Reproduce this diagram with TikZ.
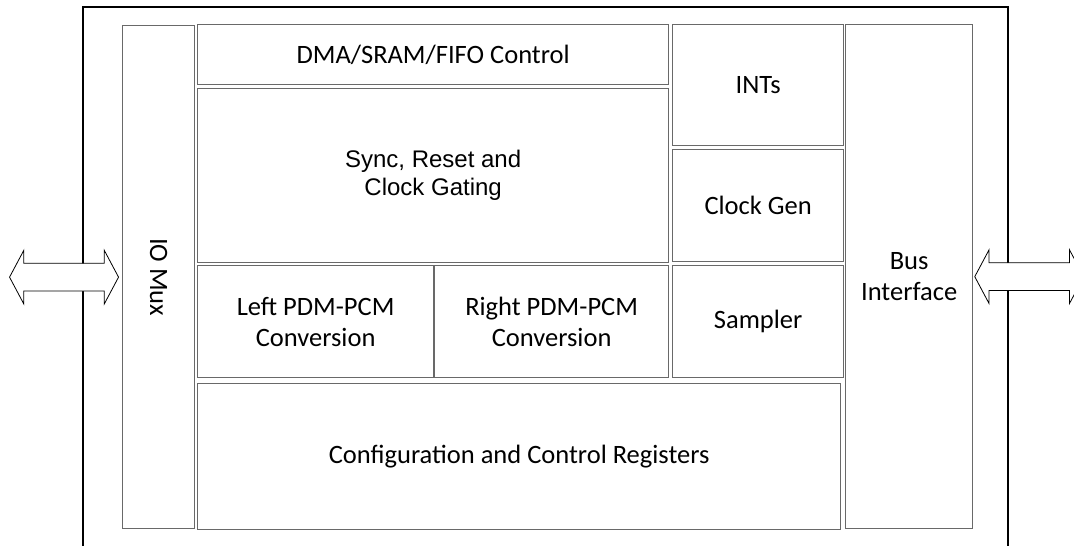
\documentclass[tikz,border=0pt]{standalone}
\usepackage{fontspec}
\setmainfont{Carlito}
\newfontfamily\arialfont{Liberation Sans}
\usetikzlibrary{positioning,shapes.arrows}
\definecolor{blockcol}{RGB}{105,105,105}
\tikzset{
  block/.style 2 args = {rectangle, draw=blockcol, line width=1.3pt, fill=white,
                         align=center, inner sep=0pt, anchor=north west,
                         minimum width=#1, minimum height=#2,
                         font=\fontsize{26.5}{31}\selectfont},
  frame/.style   = {draw=black, line width=1.8pt},
  busarrow/.style = {double arrow, draw=black, line width=0.8pt, fill=white,
                     inner sep=0pt, inner ysep=13.5pt, minimum height=109pt,
                     double arrow head extend=13pt, double arrow tip angle=124},
}

\begin{document}
\begin{tikzpicture}[x=1pt, y=-1pt]
  \useasboundingbox (0,0) rectangle (1074,546);
  \clip (0,0) rectangle (1074,546);

  % outer frame, runs past the bottom edge
  \draw[frame] (83,7) rectangle (1008,570);

  \node[block={72pt}{503pt}]  (iomux)    at (122,25)  {\rotatebox{-90}{IO Mux}};
  \node[block={471pt}{60pt}]  (dma)      at (197,24)  {DMA/SRAM/FIFO Control};
  \node[block={471pt}{174pt}, font=\arialfont\fontsize{24}{28}\selectfont] (sync)
       at (197,88) {Sync, Reset and\\ Clock Gating};
  \node[block={236pt}{112pt}] (leftpdm)  at (197,265) {Left PDM-PCM\\ Conversion};
  \node[block={234pt}{112pt}] (rightpdm) at (434,265) {Right PDM-PCM\\ Conversion};
  \node[block={643pt}{146pt}] (config)   at (197,383) {Configuration and Control Registers};
  \node[block={171pt}{121pt}] (ints)     at (672,24)  {INTs};
  \node[block={171pt}{112pt}] (clkgen)   at (672,149) {Clock Gen};
  \node[block={171pt}{112pt}] (sampler)  at (672,265) {Sampler};
  \node[block={127pt}{504pt}] (bus)      at (845,24)  {Bus\\ Interface};

  \node[busarrow, anchor=east] (leftio)  at ([xshift=-3pt]iomux.west) {};
  \node[busarrow, anchor=west] (rightio) at ([xshift=1pt]bus.east) {};
\end{tikzpicture}
\end{document}
